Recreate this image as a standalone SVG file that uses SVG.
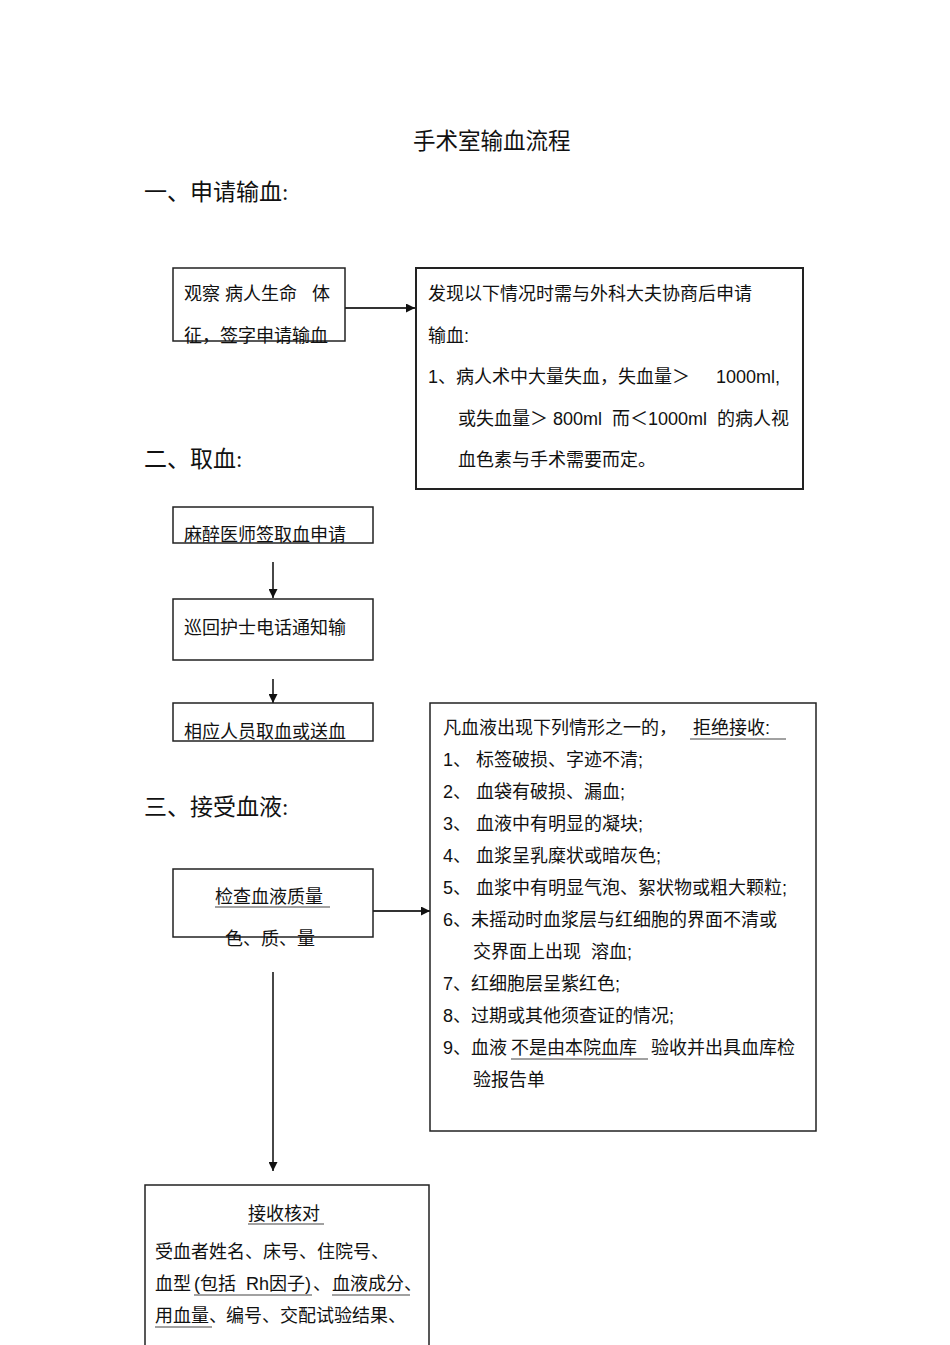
<svg xmlns="http://www.w3.org/2000/svg" width="950" height="1345" viewBox="0 0 950 1345">
<style>
.t{font-family:"Liberation Sans","Noto Sans CJK SC",sans-serif;font-size:18px;fill:#111}
.h{font-family:"Liberation Serif","Noto Sans CJK SC",serif;font-size:23px;fill:#111}
.b{fill:none;stroke:#222;stroke-width:1.5}
.b2{fill:none;stroke:#222;stroke-width:2}
.c{stroke:#333;stroke-width:1.8;fill:none}
.u{stroke:#444;stroke-width:1.2}
</style>
<defs>
<marker id="ah" viewBox="0 0 10 10" refX="10" refY="5" markerWidth="9" markerHeight="9" markerUnits="userSpaceOnUse" orient="auto">
<path d="M0,0 L10,5 L0,10 z" fill="#111"/>
</marker>
</defs>
<rect width="950" height="1345" fill="#fff"/>
<text class="h" x="413" y="149" style="font-size:22.5px">手术室输血流程</text>
<text class="h" x="144" y="200">一、申请输血:</text>
<text class="h" x="144" y="467">二、取血:</text>
<text class="h" x="144" y="815">三、接受血液:</text>

<g id="connectors">
<line class="c" x1="345" y1="308" x2="415" y2="308" marker-end="url(#ah)"/>
<line class="c" x1="273" y1="562" x2="273" y2="598" marker-end="url(#ah)"/>
<line class="c" x1="273" y1="679" x2="273" y2="703" marker-end="url(#ah)"/>
<line class="c" x1="373" y1="911" x2="430" y2="911" marker-end="url(#ah)"/>
<line class="c" x1="273" y1="972" x2="273" y2="1171" marker-end="url(#ah)"/>
</g>

<g id="n1">
<rect class="b" x="173" y="268" width="172" height="73"/>
<text class="t" x="184" y="300" xml:space="preserve">观察 病人生命   体</text>
<text class="t" x="184" y="342">征，签字申请输血</text>
</g>

<g id="n2">
<rect class="b2" x="416" y="268" width="387" height="221"/>
<text class="t" x="428" y="300">发现以下情况时需与外科大夫协商后申请</text>
<text class="t" x="428" y="342">输血:</text>
<text class="t" x="428" y="383">1、病人术中大量失血，失血量＞</text>
<text class="t" x="716" y="383">1000ml,</text>
<text class="t" x="458" y="425" xml:space="preserve">或失血量＞ 800ml  而＜1000ml  的病人视</text>
<text class="t" x="458" y="466">血色素与手术需要而定。</text>
</g>

<g id="n3">
<rect class="b" x="173" y="507" width="200" height="36"/>
<text class="t" x="184" y="541">麻醉医师签取血申请</text>
</g>

<g id="n4">
<rect class="b" x="173" y="599" width="200" height="61"/>
<text class="t" x="184" y="634">巡回护士电话通知输</text>
</g>

<g id="n5">
<rect class="b" x="173" y="703" width="200" height="38"/>
<text class="t" x="184" y="738">相应人员取血或送血</text>
</g>

<g id="n6">
<rect class="b" x="173" y="869" width="200" height="68"/>
<text class="t" x="215" y="903">检查血液质量</text>
<line class="u" x1="215" y1="907" x2="330" y2="907"/>
<text class="t" x="225" y="945">色、质、量</text>
</g>

<g id="n7">
<rect class="b" x="430" y="703" width="386" height="428"/>
<text class="t" x="443" y="734">凡血液出现下列情形之一的，</text>
<text class="t" x="693" y="734">拒绝接收:</text>
<line class="u" x1="690" y1="739" x2="786" y2="739"/>
<text class="t" x="443" y="766">1、 标签破损、字迹不清;</text>
<text class="t" x="443" y="798">2、 血袋有破损、漏血;</text>
<text class="t" x="443" y="830">3、 血液中有明显的凝块;</text>
<text class="t" x="443" y="862">4、 血浆呈乳糜状或暗灰色;</text>
<text class="t" x="443" y="894">5、 血浆中有明显气泡、絮状物或粗大颗粒;</text>
<text class="t" x="443" y="926">6、未摇动时血浆层与红细胞的界面不清或</text>
<text class="t" x="473" y="958" xml:space="preserve">交界面上出现  溶血;</text>
<text class="t" x="443" y="990">7、红细胞层呈紫红色;</text>
<text class="t" x="443" y="1022">8、过期或其他须查证的情况;</text>
<text class="t" x="443" y="1054">9、血液</text>
<text class="t" x="511" y="1054">不是由本院血库</text>
<line class="u" x1="511" y1="1059" x2="648" y2="1059"/>
<text class="t" x="651" y="1054">验收并出具血库检</text>
<text class="t" x="473" y="1086">验报告单</text>
</g>

<g id="n8">
<path class="b" d="M145,1345 V1185 H429 V1345"/>
<text class="t" x="248" y="1220">接收核对</text>
<line class="u" x1="248" y1="1224" x2="324" y2="1224"/>
<text class="t" x="155" y="1258">受血者姓名、床号、住院号、</text>
<text class="t" x="155" y="1290">血型</text>
<text class="t" x="194" y="1290" xml:space="preserve">(包括  Rh因子)</text>
<line class="u" x1="194" y1="1295" x2="312" y2="1295"/>
<text class="t" x="313" y="1290">、</text>
<text class="t" x="332" y="1290">血液成分、</text>
<line class="u" x1="332" y1="1295" x2="410" y2="1295"/>
<text class="t" x="155" y="1322">用血量、</text>
<line class="u" x1="155" y1="1327" x2="212" y2="1327"/>
<text class="t" x="226" y="1322">编号、交配试验结果、</text>
</g>
</svg>
